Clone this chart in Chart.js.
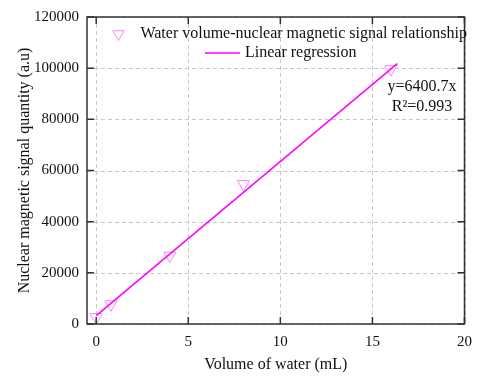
<!DOCTYPE html>
<html><head><meta charset="utf-8">
<script src="https://cdn.jsdelivr.net/npm/chart.js@4"></script>
<style>html,body{margin:0;padding:0;background:#fff}#wrap{width:481px;height:376px}</style>
</head><body><div id="wrap"><canvas id="c" width="481" height="376"></canvas></div>
<script>
const xTicks = [0, 5, 10, 15, 20];
const yTicks = [0, 20000, 40000, 60000, 80000, 100000, 120000];
const waterVolume = [0, 0.8, 4, 8, 16];
const signalQuantity = [2700, 7700, 26700, 54700, 99600];
const fitX = [0, 16.35];
const fitY = [3300, 101800];
const seriesNames = ['Water volume-nuclear magnetic signal relationship', 'Linear regression'];
const equationLines = ['y=6400.7x', 'R²=0.993'];

const FONT = '"Liberation Serif", "Times New Roman", serif';
const MARK = '#ff80ff';
const LINE = '#ff00ff';

const gridPlugin = {
  id: 'dashgrid',
  beforeDatasetsDraw(chart) {
    const {ctx, chartArea: a, scales: {x, y}} = chart;
    ctx.save();
    ctx.strokeStyle = '#c8c8c8';
    ctx.lineWidth = 1;
    ctx.setLineDash([4, 3]);
    ctx.beginPath();
    xTicks.forEach(v => { const px = Math.round(x.getPixelForValue(v)) + 0.5;
      ctx.moveTo(px, a.top); ctx.lineTo(px, a.bottom); });
    yTicks.forEach(v => { const py = Math.round(y.getPixelForValue(v)) + 0.5;
      ctx.moveTo(a.left, py); ctx.lineTo(a.right, py); });
    ctx.stroke();
    ctx.restore();
  }
};

const framePlugin = {
  id: 'frame',
  afterDatasetsDraw(chart) {
    const {ctx, chartArea: a, scales: {x, y}} = chart;
    ctx.save();
    ctx.strokeStyle = '#333';
    ctx.lineWidth = 1.5;
    ctx.strokeRect(a.left, a.top, a.right - a.left, a.bottom - a.top);
    ctx.beginPath();
    const L = 7;
    xTicks.forEach(v => { const px = x.getPixelForValue(v);
      ctx.moveTo(px, a.bottom); ctx.lineTo(px, a.bottom - L);
      ctx.moveTo(px, a.top); ctx.lineTo(px, a.top + L); });
    yTicks.forEach(v => { const py = y.getPixelForValue(v);
      ctx.moveTo(a.left, py); ctx.lineTo(a.left + L, py);
      ctx.moveTo(a.right, py); ctx.lineTo(a.right - L, py); });
    ctx.stroke();

    // legend
    ctx.font = '16px ' + FONT;
    ctx.fillStyle = '#111';
    ctx.textBaseline = 'middle';
    ctx.textAlign = 'left';
    const w1 = ctx.measureText(seriesNames[0]).width;
    const row1 = 34, row2 = 53;
    const textEnd = 467;
    const s1 = textEnd - w1;
    const tx = s1 - 22, r = 6.5;
    ctx.strokeStyle = MARK; ctx.lineWidth = 1;
    ctx.beginPath();
    ctx.moveTo(tx - r * 0.866, row1 - r * 0.5);
    ctx.lineTo(tx + r * 0.866, row1 - r * 0.5);
    ctx.lineTo(tx, row1 + r);
    ctx.closePath(); ctx.stroke();
    ctx.fillText(seriesNames[0], s1, row1);
    ctx.strokeStyle = LINE; ctx.lineWidth = 1.5;
    ctx.beginPath(); ctx.moveTo(205, row2); ctx.lineTo(240, row2); ctx.stroke();
    ctx.fillText(seriesNames[1], 245, row2);

    // equation
    ctx.textAlign = 'center';
    ctx.fillText(equationLines[0], 422, 87);
    ctx.fillText(equationLines[1], 422, 107);
    ctx.restore();
  }
};

const tickFont = {family: FONT, size: 15};
const titleFont = {family: FONT, size: 16};

new Chart(document.getElementById('c'), {
  type: 'scatter',
  data: {
    datasets: [
      {
        label: seriesNames[0],
        data: waterVolume.map((v, i) => ({x: v, y: signalQuantity[i]})),
        pointStyle: 'triangle', rotation: 180, pointRadius: 7,
        borderColor: MARK, backgroundColor: 'rgba(0,0,0,0)', borderWidth: 1,
        order: 2
      },
      {
        label: seriesNames[1], type: 'line',
        data: fitX.map((v, i) => ({x: v, y: fitY[i]})),
        borderColor: LINE, borderWidth: 1.5, pointRadius: 0, showLine: true, fill: false,
        order: 1
      }
    ]
  },
  options: {
    responsive: false, animation: false,
    layout: {padding: {left: 0, right: 8, top: 14, bottom: 0}},
    plugins: {legend: {display: false}, tooltip: {enabled: false}},
    scales: {
      x: {
        type: 'linear', min: -0.5, max: 20,
        afterBuildTicks: s => { s.ticks = xTicks.map(v => ({value: v})); },
        afterFit: s => { s.height = 52; },
        grid: {display: false, drawTicks: false},
        border: {display: false},
        ticks: {font: tickFont, color: '#111', padding: 9, maxRotation: 0},
        title: {display: true, text: 'Volume of water (mL)', font: titleFont, color: '#111', padding: {top: 0, bottom: 2}}
      },
      y: {
        min: 0, max: 120000,
        afterBuildTicks: s => { s.ticks = yTicks.map(v => ({value: v})); },
        afterFit: s => { s.width = 87; },
        grid: {display: false, drawTicks: false},
        border: {display: false},
        ticks: {font: tickFont, color: '#111', padding: 8, callback: v => String(v)},
        title: {display: true, text: 'Nuclear magnetic signal quantity (a.u)', font: titleFont, color: '#111', padding: {top: 15, bottom: 0}}
      }
    }
  },
  plugins: [gridPlugin, framePlugin]
});
</script></body></html>
